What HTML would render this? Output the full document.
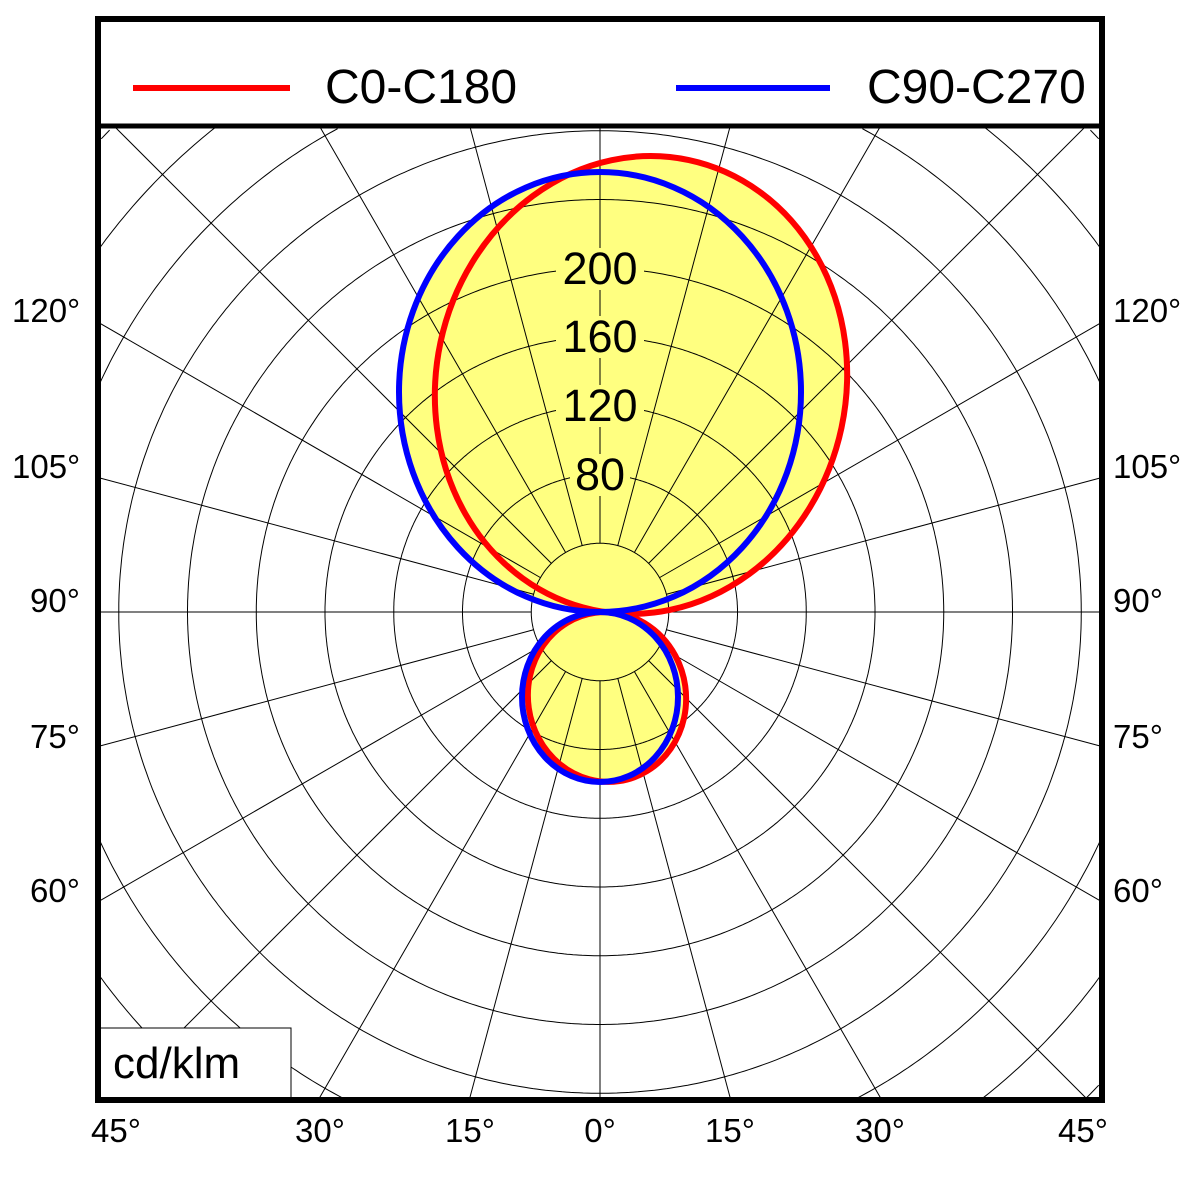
<!DOCTYPE html>
<html><head><meta charset="utf-8"><style>
html,body{margin:0;padding:0;background:#fff;overflow:hidden;width:1200px;height:1200px}
svg{display:block}
text{font-family:"Liberation Sans",sans-serif;fill:#000}
</style></head><body>
<svg id="s" width="1200" height="1200" viewBox="0 0 1200 1200" xmlns="http://www.w3.org/2000/svg">
<rect width="1200" height="1200" fill="#fff"/>
<g fill="#ffff80" stroke="none">
<ellipse cx="600" cy="392" rx="201" ry="220"/>
<ellipse cx="641" cy="385" rx="205" ry="230" transform="rotate(12 641 385)"/>
<ellipse cx="600" cy="697" rx="78" ry="85"/>
<ellipse cx="607" cy="697" rx="79" ry="85" transform="rotate(-8 607 697)"/>
</g>
<g id="grid" stroke="#000" stroke-width="1" fill="none"></g>
<g fill="#ffff80">
<rect x="556" y="248" width="88" height="42"/>
<rect x="556" y="316" width="88" height="42"/>
<rect x="556" y="385" width="88" height="42"/>
<rect x="570" y="454" width="60" height="42"/>
</g>
<g font-size="45" text-anchor="middle">
<text x="600" y="284">200</text>
<text x="600" y="352">160</text>
<text x="600" y="421">120</text>
<text x="600" y="490">80</text>
</g>
<g fill="none" stroke-width="6">
<ellipse cx="641" cy="385" rx="205" ry="230" transform="rotate(12 641 385)" stroke="#f00"/>
<ellipse cx="607" cy="697" rx="79" ry="85" transform="rotate(-8 607 697)" stroke="#f00"/>
<ellipse cx="600" cy="392" rx="201" ry="220" stroke="#00f"/>
<ellipse cx="600" cy="697" rx="78" ry="85" stroke="#00f"/>
</g>
<rect x="100" y="1028" width="191" height="70" fill="#fff" stroke="#000" stroke-width="1"/>
<text x="113" y="1078" font-size="44">cd/klm</text>
<rect x="98" y="19" width="1004" height="1081" fill="none" stroke="#000" stroke-width="6"/>
<line x1="98" y1="126" x2="1102" y2="126" stroke="#000" stroke-width="5"/>
<line x1="133" y1="88" x2="290" y2="88" stroke="#f00" stroke-width="6"/>
<line x1="676" y1="88" x2="830" y2="88" stroke="#00f" stroke-width="6"/>
<g font-size="48">
<text x="325" y="103">C0-C180</text>
<text x="867" y="103">C90-C270</text>
</g>
<g font-size="33" text-anchor="middle">
<text x="116" y="1142">45°</text>
<text x="320" y="1142">30°</text>
<text x="470" y="1142">15°</text>
<text x="600" y="1142">0°</text>
<text x="730" y="1142">15°</text>
<text x="880" y="1142">30°</text>
<text x="1083" y="1142">45°</text>
</g>
<g font-size="33">
<text x="12" y="322">120°</text><text x="12" y="478">105°</text><text x="30" y="612">90°</text>
<text x="30" y="748">75°</text><text x="30" y="902">60°</text>
<text x="1113" y="322">120°</text><text x="1113" y="478">105°</text><text x="1113" y="612">90°</text>
<text x="1113" y="748">75°</text><text x="1113" y="902">60°</text>
</g>
</svg>
<script>
(function(){
var g=document.getElementById('grid'),cx=600,cy=612,st=68.75,h='';
var X0=98,X1=1102,Y0=127,Y1=1100;
function inside(x,y){return x>=X0&&x<=X1&&y>=Y0&&y<=Y1;}
for(var i=1;i<=10;i++){var R=i*st,seg=[],N=720;
  for(var k=0;k<=N;k++){var t=k/N*2*Math.PI,x=cx+R*Math.cos(t),y=cy+R*Math.sin(t);
    if(inside(x,y)){seg.push(x.toFixed(1)+','+y.toFixed(1));}
    else{if(seg.length>1)h+='<polyline points="'+seg.join(' ')+'"/>';seg=[];}}
  if(seg.length>1)h+='<polyline points="'+seg.join(' ')+'"/>';}
for(var a=0;a<360;a+=15){var r=a*Math.PI/180,s=Math.sin(r),c=-Math.cos(r),L=2000;
  if(s>1e-9)L=Math.min(L,(X1-cx)/s);if(s<-1e-9)L=Math.min(L,(X0-cx)/s);
  if(c>1e-9)L=Math.min(L,(Y1-cy)/c);if(c<-1e-9)L=Math.min(L,(Y0-cy)/c);
  h+='<line x1="'+(cx+st*s)+'" y1="'+(cy+st*c)+'" x2="'+(cx+L*s)+'" y2="'+(cy+L*c)+'"/>';}
g.innerHTML=h;
})();
</script>
</body></html>
